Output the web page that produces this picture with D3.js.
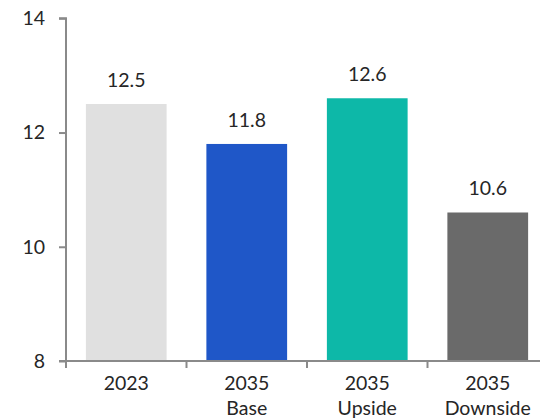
<!DOCTYPE html>
<html>
<head>
<meta charset="utf-8">
<script src="https://cdn.jsdelivr.net/npm/d3@7"></script>
<style>
  html, body { margin: 0; padding: 0; background: #ffffff; }
  svg { display: block; }
  text { font-family: Lato, "Open Sans", sans-serif; fill: #262626; }
</style>
</head>
<body>
<svg id="chart" width="540" height="419"></svg>
<script>
// Scenario labels (two lines each) and values
const categories = ["2023", "2035 Base", "2035 Upside", "2035 Downside"];
const labelLines = [["2023"], ["2035", "Base"], ["2035", "Upside"], ["2035", "Downside"]];
const values = [12.5, 11.8, 12.6, 10.6];
const barColors = ["#e0e0e0", "#1f57c8", "#0db8a8", "#6a6a6a"];
const yTicks = [8, 10, 12, 14];

const svg = d3.select("#chart");
const axisColor = "#8a8a8a";
const fontSize = 19.5;

const x = d3.scaleBand()
  .domain(categories)
  .range([66, 548])
  .paddingInner(0.33)
  .paddingOuter(0.165);

const y = d3.scaleLinear()
  .domain([8, 14])
  .range([361, 18.3]);

// Bars
svg.append("g")
  .selectAll("rect")
  .data(categories)
  .join("rect")
  .attr("x", d => x(d))
  .attr("width", x.bandwidth())
  .attr("y", (d, i) => y(values[i]))
  .attr("height", (d, i) => y(8) - y(values[i]))
  .attr("fill", (d, i) => barColors[i]);

// Value labels above bars
svg.append("g")
  .selectAll("text")
  .data(categories)
  .join("text")
  .attr("x", d => x(d) + x.bandwidth() / 2)
  .attr("y", (d, i) => y(values[i]) - 17)
  .attr("text-anchor", "middle")
  .attr("font-size", fontSize)
  .text((d, i) => d3.format(".1f")(values[i]));

// Y axis
const yAxis = d3.axisLeft(y)
  .tickValues(yTicks)
  .tickFormat(d3.format("d"))
  .tickSizeInner(7)
  .tickSizeOuter(7)
  .tickPadding(14);

const gy = svg.append("g")
  .attr("transform", "translate(66,0)")
  .call(yAxis);
gy.selectAll("path, line").attr("stroke", axisColor).attr("stroke-width", 2);
gy.select(".domain").attr("d", `M-7,${y(14)}H0V${y(8)}`);
gy.selectAll("text")
  .attr("font-size", fontSize)
  .attr("font-family", null)
  .attr("fill", "#262626");

// X axis: baseline with ticks at band boundaries
const step = x.step();
const boundaries = d3.range(categories.length + 1).map(i => 66 + i * step);
const gx = svg.append("g");
gx.append("line")
  .attr("x1", 59).attr("x2", 548)
  .attr("y1", y(8)).attr("y2", y(8))
  .attr("stroke", axisColor).attr("stroke-width", 2);
gx.selectAll("line.tick")
  .data(boundaries)
  .join("line")
  .attr("class", "tick")
  .attr("x1", d => d).attr("x2", d => d)
  .attr("y1", y(8)).attr("y2", y(8) + 7)
  .attr("stroke", axisColor).attr("stroke-width", 2);

// Category labels
const catText = gx.selectAll("text")
  .data(categories)
  .join("text")
  .attr("text-anchor", "middle")
  .attr("font-size", fontSize)
  .attr("x", d => x(d) + x.bandwidth() / 2)
  .attr("y", 390);
catText.selectAll("tspan")
  .data((d, i) => labelLines[i])
  .join("tspan")
  .attr("x", function () { return d3.select(this.parentNode).attr("x"); })
  .attr("dy", (d, j) => j === 0 ? 0 : 25)
  .text(d => d);
</script>
</body>
</html>
